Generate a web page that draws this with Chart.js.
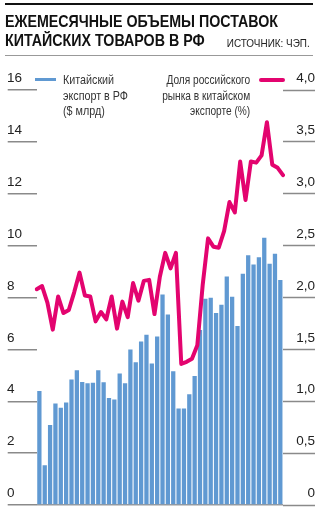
<!DOCTYPE html>
<html lang="ru">
<head>
<meta charset="utf-8">
<script src="https://cdn.jsdelivr.net/npm/chart.js@4.4.1/dist/chart.umd.min.js"></script>
<style>
  body { margin: 0; width: 324px; height: 509px; position: relative; overflow: hidden; background: #fff;
         font-family: "Liberation Sans Narrow", "Liberation Sans", Arial, sans-serif; color: #222; }
  #chart { position: absolute; left: 0; top: 0; }
  .abs { position: absolute; white-space: nowrap; }
  .fromLeft { transform-origin: left top; }
  .fromRight { transform-origin: right top; }
  #topRule { left: 5px; top: 3px; width: 308px; height: 2px; background: #111; }
  #bottomRule { left: 5px; top: 55px; width: 308px; height: 1px; background: #999; }
  #title { left: 5px; top: 12px; font-size: 16.3px; line-height: 18.5px; font-weight: bold; color: #111; }
  #source { right: 14px; top: 37px; font-size: 10.5px; line-height: 12px; color: #222; }
  .legText { top: 72px; font-size: 13.5px; line-height: 15.7px; color: #333; }
  #barText { left: 63px; }
  #lineText { right: 74px; text-align: right; }
  #barSwatch { left: 35px; top: 77.5px; width: 21px; height: 3.5px; background: #6099d2; }
  #lineSwatch { left: 259px; top: 77.5px; width: 26px; height: 4px; border-radius: 2px; background: #e3046f; }
</style>
</head>
<body>
<canvas id="chart" width="324" height="509"></canvas>
<div class="abs" id="topRule"></div>
<div class="abs fromLeft" id="title" data-w="273">ЕЖЕМЕСЯЧНЫЕ ОБЪЕМЫ ПОСТАВОК<br>КИТАЙСКИХ ТОВАРОВ В РФ</div>
<div class="abs fromRight" id="source" data-w="83">ИСТОЧНИК: ЧЭП.</div>
<div class="abs" id="bottomRule"></div>
<div class="abs" id="barSwatch"></div>
<div class="abs legText fromLeft" id="barText" data-w="65">Китайский<br>экспорт в РФ<br>($ млрд)</div>
<div class="abs legText fromRight" id="lineText" data-w="88">Доля российского<br>рынка в китайском<br>экспорте (%)</div>
<div class="abs" id="lineSwatch"></div>
<script>
// Monthly Chinese exports to Russia and Russia's share of China's exports
const months = [
  '01.20', '02.20', '03.20', '04.20', '05.20', '06.20', '07.20', '08.20', '09.20', '10.20', '11.20', '12.20',
  '01.21', '02.21', '03.21', '04.21', '05.21', '06.21', '07.21', '08.21', '09.21', '10.21', '11.21', '12.21',
  '01.22', '02.22', '03.22', '04.22', '05.22', '06.22', '07.22', '08.22', '09.22', '10.22', '11.22', '12.22',
  '01.23', '02.23', '03.23', '04.23', '05.23', '06.23', '07.23', '08.23', '09.23', '10.23'
];
// the share line has one more point than the bars
const lineMonths = [...months, '11.23'];

const exportsToRussia = [
  4.40, 1.53, 3.08, 3.91, 3.75, 3.95, 4.84, 5.20, 4.74, 4.69, 4.71, 5.20,
  4.73, 4.13, 4.07, 5.07, 4.69, 6.00, 5.50, 6.30, 6.56, 5.46, 6.50, 8.12,
  7.34, 5.16, 3.72, 3.72, 4.27, 4.97, 6.75, 7.95, 7.99, 7.40, 7.72, 8.81,
  8.03, 6.90, 8.92, 9.63, 9.27, 9.55, 10.30, 9.30, 9.69, 8.67
];
const russiaShare = [
  2.08, 2.11, 1.95, 1.69, 2.01, 1.85, 1.88, 2.05, 2.24, 2.02, 2.01, 1.77,
  1.86, 1.79, 2.01, 1.70, 1.96, 1.81, 2.14, 1.97, 2.16, 2.17, 1.84, 2.20,
  2.43, 2.28, 2.43, 1.36, 1.38, 1.41, 1.54, 2.12, 2.57, 2.49, 2.48, 2.64,
  2.92, 2.82, 3.31, 2.94, 3.31, 3.30, 3.37, 3.69, 3.28, 3.25, 3.18
];

const leftTicks = ['0', '2', '4', '6', '8', '10', '12', '14', '16'];
const rightTicks = ['0', '0,5', '1,0', '1,5', '2,0', '2,5', '3,0', '3,5', '4,0'];

const BLUE = '#6099d2';
const PINK = '#e3046f';
const TICK_FONT = { family: '"Liberation Sans", Arial, sans-serif', size: 13.5 };

// squeeze the html captions to the narrow widths of the original layout
document.querySelectorAll('[data-w]').forEach((el) => {
  const w = el.getBoundingClientRect().width;
  el.style.transform = 'scaleX(' + (el.dataset.w / w) + ')';
});

new Chart(document.getElementById('chart'), {
  data: {
    labels: months,
    datasets: [{
      type: 'line',
      label: 'Доля российского рынка в китайском экспорте (%)',
      data: russiaShare,
      xAxisID: 'x2',
      yAxisID: 'y2',
      borderColor: PINK,
      borderWidth: 4,
      borderJoinStyle: 'round',
      borderCapStyle: 'round',
      pointRadius: 0,
      tension: 0,
      order: 0
    }, {
      type: 'bar',
      label: 'Китайский экспорт в РФ ($ млрд)',
      data: exportsToRussia,
      xAxisID: 'x',
      yAxisID: 'y',
      backgroundColor: BLUE,
      grouped: false, // otherwise the line counts as a second group and bars get half width
      barPercentage: 0.8,
      categoryPercentage: 1,
      order: 1
    }]
  },
  options: {
    responsive: false,
    animation: false,
    layout: { padding: { left: 7, right: 9, top: 90, bottom: 4 } },
    plugins: { legend: { display: false }, tooltip: { enabled: false } },
    scales: {
      x: { type: 'category', offset: true, display: false },
      x2: { type: 'category', labels: lineMonths, offset: false, display: false },
      y: {
        position: 'left',
        min: 0, max: 16,
        ticks: {
          stepSize: 2,
          crossAlign: 'far',
          labelOffset: -11.5,
          color: '#222',
          font: TICK_FONT,
          callback: (v, i) => leftTicks[i]
        },
        grid: {
          drawOnChartArea: true,
          color: (ctx) => ctx.tick && ctx.tick.value === 0 ? '#9a9a9a' : 'rgba(0,0,0,0)',
          lineWidth: 1.5,
          tickLength: 29,
          tickColor: '#8a8a8a',
          tickWidth: 1.5
        },
        border: { display: false },
        afterFit: (s) => { s.width = 29.7; s.paddingTop = 0; s.paddingBottom = 0; }
      },
      y2: {
        position: 'right',
        min: 0, max: 4,
        ticks: {
          stepSize: 0.5,
          crossAlign: 'far',
          labelOffset: -11.5,
          color: '#222',
          font: TICK_FONT,
          callback: (v, i) => rightTicks[i]
        },
        grid: {
          drawOnChartArea: false,
          tickLength: 32,
          tickColor: '#8a8a8a',
          tickWidth: 1.5
        },
        border: { display: false },
        afterFit: (s) => { s.width = 32; s.paddingTop = 0; s.paddingBottom = 0; }
      }
    }
  }
});
</script>
</body>
</html>
